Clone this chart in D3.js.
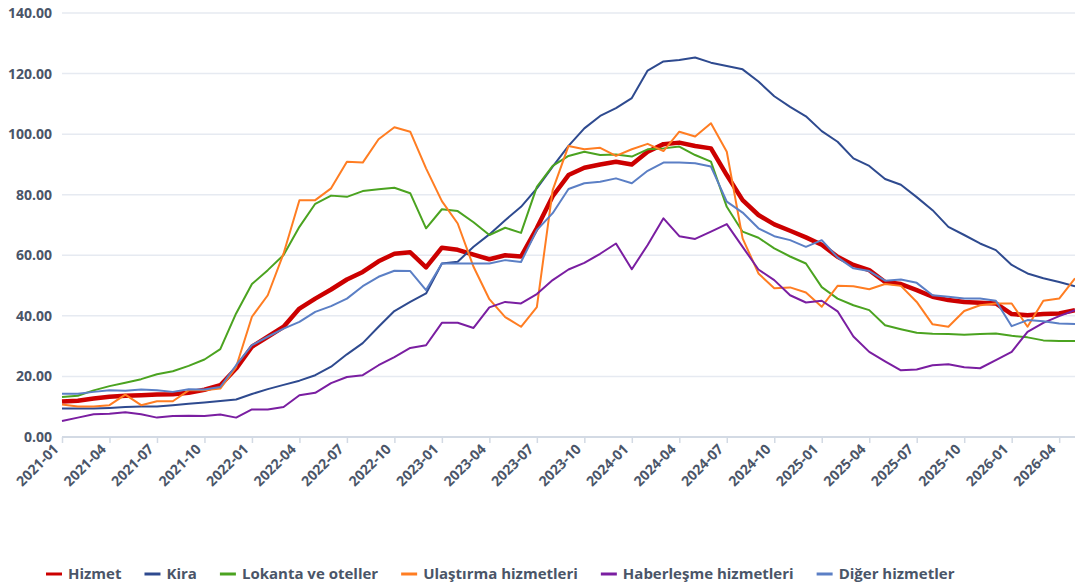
<!DOCTYPE html>
<html>
<head>
<meta charset="utf-8">
<script src="https://cdn.jsdelivr.net/npm/d3@7"></script>
<style>
  body { margin: 0; background: #fff; }
  svg { display: block; font-family: "Open Sans", sans-serif; }
</style>
</head>
<body>
<svg id="chart"></svg>
<script>
var width = 1075;
var height = 588;

// monthly index values, 2021-01 .. 2026-05
var months = [];
for (var y = 2021; y <= 2026; y++) {
  for (var m = 1; m <= 12; m++) {
    if (y === 2026 && m > 5) break;
    months.push(y + "-" + (m < 10 ? "0" + m : m));
  }
}

var hizmet = [11.7, 12.0, 12.7, 13.3, 13.6, 13.8, 14.0, 14.1, 14.6, 15.6, 17.1, 22.6, 29.8, 33.1, 36.4, 42.4,
  45.7, 48.7, 52.0, 54.5, 58.0, 60.5, 61.0, 56.0, 62.5, 61.8, 60.2, 58.7, 60.0, 59.6, 69.0, 79.5,
  86.5, 88.9, 90.0, 90.9, 90.0, 94.2, 96.7, 97.2, 96.1, 95.3, 86.5, 78.2, 73.3, 70.2, 68.1, 65.9,
  63.5, 59.5, 56.8, 55.1, 51.2, 50.5, 48.5, 46.3, 45.2, 44.6, 44.3, 44.1, 40.6, 40.2, 40.6, 40.8, 41.9];

var kira = [9.4, 9.4, 9.4, 9.6, 9.9, 10.1, 10.1, 10.5, 11.0, 11.4, 11.9, 12.4, 14.2, 15.8, 17.2, 18.6,
  20.4, 23.2, 27.3, 31.0, 36.4, 41.6, 44.6, 47.4, 57.3, 57.9, 62.8, 66.9, 71.6, 76.0, 82.1, 89.3,
  96.1, 101.9, 106.0, 108.6, 111.9, 121.0, 124.0, 124.5, 125.3, 123.6, 122.5, 121.4, 117.4, 112.5, 109.0, 105.9,
  101.0, 97.5, 92.0, 89.5, 85.2, 83.3, 79.2, 74.9, 69.4, 66.7, 63.9, 61.7, 56.8, 54.0, 52.4, 51.2, 49.8];

var lokanta = [13.2, 13.6, 15.4, 16.8, 17.9, 19.1, 20.7, 21.7, 23.5, 25.6, 29.0, 40.8, 50.5, 55.1, 60.1, 69.4,
  77.0, 79.7, 79.3, 81.2, 81.8, 82.3, 80.5, 68.9, 75.2, 74.6, 70.9, 66.7, 69.1, 67.4, 82.6, 89.5,
  92.8, 94.2, 93.1, 93.3, 92.6, 95.0, 95.3, 95.9, 93.1, 90.9, 76.0, 67.8, 65.8, 62.3, 59.6, 57.3,
  49.5, 45.7, 43.5, 41.9, 36.9, 35.6, 34.4, 34.1, 34.0, 33.8, 34.0, 34.2, 33.4, 32.9, 31.9, 31.7, 31.7];

var ulastirma = [10.7, 10.1, 10.1, 10.5, 14.0, 10.5, 11.8, 11.8, 15.4, 15.4, 16.0, 23.1, 39.7, 46.8, 60.6, 78.2,
  78.2, 82.1, 90.9, 90.6, 98.3, 102.3, 100.8, 88.7, 77.9, 70.5, 56.2, 45.5, 39.6, 36.4, 42.9, 81.5,
  96.1, 95.0, 95.5, 92.8, 95.0, 96.8, 94.4, 100.8, 99.2, 103.6, 94.2, 65.6, 54.0, 49.1, 49.4, 47.7,
  43.0, 49.9, 49.8, 48.8, 50.5, 49.9, 44.6, 37.2, 36.4, 41.6, 43.5, 44.1, 44.1, 36.4, 45.0, 45.7, 52.4];

var haberlesme = [5.3, 6.4, 7.5, 7.7, 8.2, 7.5, 6.4, 6.9, 7.0, 6.9, 7.4, 6.4, 9.1, 9.1, 9.9, 13.8,
  14.6, 17.8, 19.8, 20.4, 23.7, 26.4, 29.4, 30.3, 37.7, 37.7, 36.0, 42.8, 44.6, 44.1, 47.2, 51.8,
  55.3, 57.5, 60.5, 63.9, 55.4, 63.4, 72.2, 66.3, 65.4, 67.8, 70.3, 62.8, 55.3, 51.8, 46.8, 44.4,
  45.0, 41.5, 33.2, 28.1, 25.0, 22.0, 22.3, 23.7, 24.0, 23.0, 22.7, 25.4, 28.1, 34.7, 37.7, 39.9, 41.9];

var diger = [14.3, 14.3, 14.9, 15.4, 15.3, 15.7, 15.4, 14.9, 15.8, 15.7, 16.5, 23.7, 30.3, 33.1, 35.8, 38.0,
  41.3, 43.2, 45.7, 49.8, 52.9, 54.9, 54.8, 48.5, 57.3, 57.3, 57.3, 57.3, 58.4, 57.8, 68.3, 73.9,
  81.9, 83.8, 84.3, 85.4, 83.8, 87.9, 90.6, 90.6, 90.4, 89.3, 77.7, 74.1, 68.9, 66.3, 65.0, 62.8,
  65.0, 59.3, 55.7, 54.8, 51.6, 52.0, 50.9, 46.8, 46.3, 45.7, 45.7, 45.0, 36.6, 38.6, 38.2, 37.5, 37.3];

var seriesNames = ["Hizmet", "Kira", "Lokanta ve oteller", "Ulaştırma hizmetleri", "Haberleşme hizmetleri", "Diğer hizmetler"];
var seriesValues = [hizmet, kira, lokanta, ulastirma, haberlesme, diger];
var seriesColors = ["#cc0000", "#2e4a8f", "#4ba320", "#ff7d22", "#7a1ea1", "#5b7fc5"];
var yTicks = [0, 20, 40, 60, 80, 100, 120, 140];

var textColor = "#4a5568";
var margin = { top: 13, right: 0, bottom: 151, left: 62 };

var svg = d3.select("#chart")
  .attr("width", width)
  .attr("height", height);

var xScale = d3.scalePoint()
  .domain(months)
  .range([margin.left, width - margin.right]);

var yScale = d3.scaleLinear()
  .domain([0, 140])
  .range([height - margin.bottom, margin.top]);

// horizontal grid lines
svg.append("g")
  .selectAll("line")
  .data(yTicks.slice(1))
  .enter()
  .append("line")
    .attr("x1", margin.left)
    .attr("x2", width)
    .attr("y1", d => yScale(d))
    .attr("y2", d => yScale(d))
    .attr("stroke", "#e6eaf1")
    .attr("stroke-width", 1.5);

// y axis labels
var yAxis = d3.axisLeft(yScale)
  .tickValues(yTicks)
  .tickFormat(d3.format(".2f"))
  .tickSize(0)
  .tickPadding(10);

svg.append("g")
  .attr("transform", `translate(${margin.left},0)`)
  .call(yAxis)
  .call(g => g.select(".domain").remove())
  .selectAll("text")
    .attr("fill", textColor)
    .style("font-size", "14px")
    .style("font-weight", "bold")
    .style("font-family", "'Open Sans', sans-serif");

// x axis
var xAxis = d3.axisBottom(xScale)
  .tickValues(months.filter((d, i) => i % 3 === 0))
  .tickSize(6)
  .tickSizeOuter(0);

var gx = svg.append("g")
  .attr("transform", `translate(0,${height - margin.bottom})`)
  .call(xAxis);

gx.select(".domain")
  .attr("stroke", "#d3dae4")
  .attr("stroke-width", 2)
  .attr("d", `M${margin.left},0H${width}`);

gx.selectAll(".tick line")
  .attr("stroke", "#d3dae4")
  .attr("stroke-width", 1.5);

gx.selectAll(".tick text")
  .attr("fill", textColor)
  .attr("y", 0)
  .attr("dy", 0)
  .attr("transform", "translate(-3,13) rotate(-45)")
  .style("text-anchor", "end")
  .style("font-size", "14px")
  .style("font-weight", "bold")
  .style("font-family", "'Open Sans', sans-serif");

// lines
var line = d3.line()
  .x((d, i) => xScale(months[i]))
  .y(d => yScale(d));

svg.append("g")
  .selectAll("path")
  .data(seriesValues)
  .enter()
  .append("path")
    .attr("d", d => line(d))
    .attr("fill", "none")
    .attr("stroke", (d, i) => seriesColors[i])
    .attr("stroke-width", (d, i) => i === 0 ? 4.5 : 2)
    .attr("stroke-linejoin", "round");

// legend
var legend = svg.append("g")
  .attr("transform", "translate(46,574)");

var cursor = 0;
seriesNames.forEach(function (name, i) {
  var item = legend.append("g").attr("transform", `translate(${cursor},0)`);
  item.append("line")
    .attr("x1", 0)
    .attr("x2", 16)
    .attr("stroke", seriesColors[i])
    .attr("stroke-width", 3);
  var t = item.append("text")
    .attr("x", 22)
    .attr("dy", "0.35em")
    .attr("fill", textColor)
    .style("font-size", "15px")
    .style("font-weight", "bold")
    .text(name);
  cursor += 22 + t.node().getComputedTextLength() + 23;
});
</script>
</body>
</html>
